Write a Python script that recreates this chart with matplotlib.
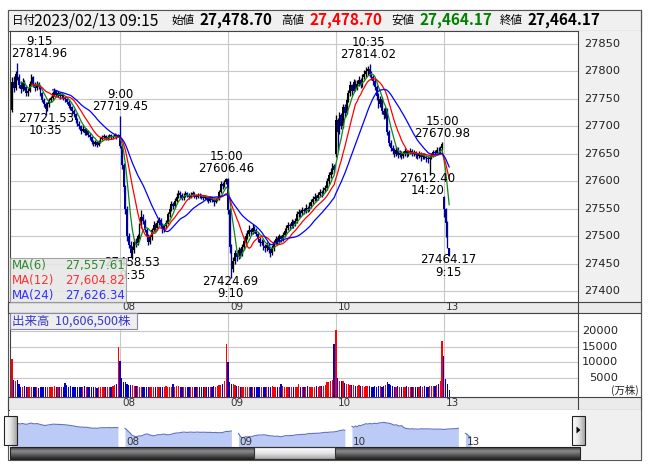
import numpy as np
import pandas as pd
import matplotlib
matplotlib.use("Agg")
import matplotlib.pyplot as plt
import matplotlib.transforms as mtransforms
from matplotlib.patches import Rectangle, Polygon
from matplotlib.colors import LinearSegmentedColormap

# ------------------------------------------------------------------ data
day_labels = ["08", "09", "10", "13"]
day_start_bars = [61, 122, 183, 244]
session_start_bars = [0, 61, 122, 183, 244]
last_date = "2023/02/13"
last_time = "09:15"

opens = [
    # 02/07
    27730, 27780, 27770, 27795, 27790, 27775, 27768, 27780, 27772, 27760,
    27765, 27778, 27790, 27776, 27770, 27778, 27772, 27760, 27748, 27740,
    27732, 27740, 27748, 27752, 27760, 27765, 27758, 27760, 27755, 27757,
    27752, 27750, 27745, 27738, 27735, 27728, 27722, 27712, 27705, 27700,
    27692, 27696, 27688, 27692, 27685, 27680, 27672, 27668, 27672, 27666,
    27672, 27678, 27680, 27682, 27679, 27681, 27684, 27680, 27682, 27685,
    27680,
    # 02/08
    27684, 27665, 27630, 27590, 27550, 27500, 27485, 27470, 27475, 27490,
    27488, 27500, 27520, 27535, 27528, 27512, 27500, 27490, 27498, 27512,
    27520, 27515, 27525, 27530, 27520, 27512, 27518, 27525, 27540, 27550,
    27558, 27555, 27565, 27572, 27578, 27575, 27570, 27574, 27578, 27575,
    27572, 27576, 27578, 27574, 27572, 27575, 27574, 27572, 27570, 27572,
    27568, 27565, 27570, 27566, 27562, 27566, 27568, 27580, 27595, 27592,
    27598,
    # 02/09
    27604, 27548, 27480, 27440, 27455, 27470, 27462, 27475, 27468, 27480,
    27492, 27500, 27505, 27512, 27508, 27515, 27512, 27505, 27495, 27488,
    27490, 27482, 27478, 27484, 27475, 27470, 27478, 27490, 27495, 27492,
    27500, 27496, 27502, 27510, 27515, 27520, 27518, 27526, 27522, 27528,
    27540, 27545, 27542, 27548, 27546, 27552, 27550, 27556, 27562, 27568,
    27572, 27570, 27575, 27580, 27578, 27585, 27588, 27600, 27612, 27618,
    27628,
    # 02/10
    27650, 27712, 27690, 27720, 27700, 27735, 27725, 27748, 27760, 27775,
    27765, 27780, 27770, 27778, 27785, 27775, 27790, 27795, 27800, 27805,
    27795, 27790, 27782, 27772, 27755, 27740, 27750, 27728, 27720, 27730,
    27690, 27670, 27660, 27655, 27650, 27658, 27648, 27652, 27646, 27650,
    27655, 27650, 27652, 27656, 27650, 27653, 27648, 27646, 27650, 27644,
    27648, 27645, 27642, 27640.32, 27644, 27648, 27654, 27651, 27658, 27657.18,
    27660,
    # 02/13
    27572, 27549.79, 27525, 27478.70,
]

highs = [
    27790, 27792, 27800, 27814.96, 27796, 27782, 27788, 27785, 27776, 27770,
    27782, 27795, 27792, 27780, 27782, 27781, 27775, 27763, 27752, 27744,
    27745, 27752, 27756, 27764, 27770, 27767, 27765, 27762, 27761, 27759,
    27756, 27752, 27748, 27742, 27737, 27731, 27725, 27716, 27709, 27703,
    27702, 27698, 27697, 27694, 27688, 27682, 27675, 27676, 27674, 27676,
    27681, 27684, 27686, 27684, 27684, 27687, 27686, 27685, 27688, 27687,
    27686,
    27719.45, 27668, 27634, 27594, 27555, 27506, 27492, 27482, 27496, 27497,
    27505, 27525, 27548, 27540, 27532, 27516, 27504, 27503, 27516, 27528,
    27524, 27530, 27536, 27533, 27524, 27522, 27530, 27545, 27556, 27564,
    27562, 27570, 27578, 27584, 27582, 27578, 27578, 27582, 27580, 27578,
    27580, 27582, 27580, 27577, 27579, 27578, 27577, 27575, 27576, 27574,
    27571, 27574, 27572, 27569, 27570, 27572, 27584, 27600, 27599, 27603,
    27606.46,
    27606, 27552, 27486, 27462, 27476, 27474, 27480, 27478, 27486, 27498,
    27506, 27512, 27520, 27516, 27522, 27518, 27515, 27508, 27498, 27496,
    27493, 27486, 27490, 27487, 27478, 27484, 27494, 27500, 27498, 27505,
    27503, 27507, 27515, 27520, 27526, 27524, 27532, 27530, 27534, 27546,
    27550, 27548, 27554, 27552, 27558, 27556, 27562, 27568, 27574, 27578,
    27576, 27580, 27586, 27584, 27590, 27594, 27606, 27618, 27624, 27634,
    27632,
    27720, 27716, 27726, 27724, 27740, 27740, 27754, 27766, 27782, 27778,
    27786, 27784, 27784, 27792, 27789, 27796, 27802, 27808, 27810, 27814.02,
    27800, 27794, 27786, 27776, 27760, 27756, 27754, 27734, 27736, 27734,
    27694, 27676, 27666, 27660, 27664, 27662, 27657, 27655, 27655, 27660,
    27658, 27657, 27661, 27659, 27658, 27656, 27651, 27655, 27653, 27652,
    27651, 27648, 27646, 27648, 27652, 27658, 27657, 27662, 27662, 27664,
    27670.98,
    27574, 27552, 27528, 27478.70,
]

lows = [
    27726, 27762, 27766, 27785, 27770, 27760, 27764, 27766, 27755, 27756,
    27762, 27774, 27772, 27765, 27766, 27768, 27756, 27744, 27735, 27721.53,
    27728, 27736, 27744, 27749, 27756, 27753, 27754, 27750, 27752, 27748,
    27745, 27740, 27733, 27730, 27723, 27717, 27707, 27700, 27695, 27687,
    27690, 27684, 27685, 27680, 27675, 27668, 27664, 27665, 27662, 27664,
    27670, 27675, 27677, 27675, 27676, 27679, 27677, 27678, 27680, 27677,
    27680,
    27660, 27622, 27580, 27540, 27492, 27478, 27462, 27458.53, 27470, 27480,
    27484, 27496, 27515, 27522, 27508, 27494, 27484, 27486, 27494, 27508,
    27510, 27512, 27520, 27516, 27506, 27508, 27514, 27522, 27536, 27546,
    27550, 27552, 27562, 27569, 27570, 27566, 27567, 27571, 27571, 27568,
    27570, 27573, 27570, 27568, 27570, 27570, 27568, 27566, 27568, 27564,
    27560, 27563, 27562, 27556, 27560, 27564, 27566, 27578, 27586, 27590,
    27596,
    27540, 27470, 27424.69, 27436, 27450, 27455, 27458, 27460, 27464, 27476,
    27488, 27496, 27500, 27502, 27504, 27506, 27500, 27490, 27482, 27484,
    27476, 27472, 27474, 27470, 27462, 27466, 27474, 27486, 27486, 27488,
    27490, 27492, 27498, 27506, 27511, 27512, 27515, 27516, 27519, 27525,
    27536, 27536, 27539, 27540, 27543, 27545, 27547, 27552, 27558, 27564,
    27564, 27567, 27571, 27572, 27575, 27580, 27585, 27596, 27606, 27614,
    27616,
    27645, 27655, 27686, 27695, 27697, 27718, 27722, 27744, 27756, 27758,
    27762, 27764, 27766, 27774, 27770, 27772, 27786, 27790, 27794, 27790,
    27784, 27776, 27766, 27748, 27734, 27736, 27722, 27714, 27716, 27684,
    27664, 27655, 27650, 27644, 27646, 27642, 27644, 27640, 27642, 27646,
    27645, 27647, 27649, 27646, 27647, 27643, 27640, 27643, 27638, 27640,
    27640, 27636, 27634, 27612.40, 27640, 27645, 27646, 27648, 27650, 27652,
    27658,
    27535, 27499, 27478, 27464.17,
]

closes = [
    27780, 27770, 27795, 27790, 27775, 27768, 27780, 27772, 27760, 27765,
    27778, 27790, 27776, 27770, 27778, 27772, 27760, 27748, 27740, 27732,
    27740, 27748, 27752, 27760, 27765, 27758, 27760, 27755, 27757, 27752,
    27750, 27745, 27738, 27735, 27728, 27722, 27712, 27705, 27700, 27692,
    27696, 27688, 27692, 27685, 27680, 27672, 27668, 27672, 27666, 27672,
    27678, 27680, 27682, 27679, 27681, 27684, 27680, 27682, 27685, 27680,
    27684,
    27665, 27630, 27590, 27550, 27500, 27485, 27470, 27475, 27490, 27488,
    27500, 27520, 27535, 27528, 27512, 27500, 27490, 27498, 27512, 27520,
    27515, 27525, 27530, 27520, 27512, 27518, 27525, 27540, 27550, 27558,
    27555, 27565, 27572, 27578, 27575, 27570, 27574, 27578, 27575, 27572,
    27576, 27578, 27574, 27572, 27575, 27574, 27572, 27570, 27572, 27568,
    27565, 27570, 27566, 27562, 27566, 27568, 27580, 27595, 27592, 27598,
    27604,
    27548, 27480, 27440, 27455, 27470, 27462, 27475, 27468, 27480, 27492,
    27500, 27505, 27512, 27508, 27515, 27512, 27505, 27495, 27488, 27490,
    27482, 27478, 27484, 27475, 27470, 27478, 27490, 27495, 27492, 27500,
    27496, 27502, 27510, 27515, 27520, 27518, 27526, 27522, 27528, 27540,
    27545, 27542, 27548, 27546, 27552, 27550, 27556, 27562, 27568, 27572,
    27570, 27575, 27580, 27578, 27585, 27588, 27600, 27612, 27618, 27628,
    27620,
    27712, 27690, 27720, 27700, 27735, 27725, 27748, 27760, 27775, 27765,
    27780, 27770, 27778, 27785, 27775, 27790, 27795, 27800, 27805, 27795,
    27790, 27782, 27772, 27755, 27740, 27750, 27728, 27720, 27730, 27690,
    27670, 27660, 27655, 27650, 27658, 27648, 27652, 27646, 27650, 27655,
    27650, 27652, 27656, 27650, 27653, 27648, 27646, 27650, 27644, 27648,
    27645, 27642, 27640.32, 27644, 27648, 27654, 27651, 27658, 27657.18, 27660,
    27668,
    27549.79, 27525, 27478.70, 27464.17,
]

volumes = [  # 万株
    11000, 4200, 3900, 4200, 3000, 2100, 2000, 2200, 1900, 2000,
    1800, 2100, 1900, 1800, 1800, 1700, 1800, 1800, 1900, 2000,
    1800, 2100, 1900, 2000, 2200, 2000, 2100, 1900, 2000, 1800,
    3100, 2600, 1900, 2200, 2000, 1900, 1800, 2000, 1900, 2000,
    2100, 2200, 1900, 1800, 2000, 1900, 1800, 1900, 1700, 1800,
    2000, 1900, 1800, 2000, 2100, 1900, 2000, 2300, 2600, 3000,
    15000,
    10500, 5000, 3500, 3500, 3000, 2700, 2600, 2500, 2300, 2200,
    2200, 2100, 2000, 2100, 1900, 2000, 2000, 1900, 2100, 2000,
    1800, 1900, 2000, 2100, 1900, 2000, 2200, 2000, 2100, 1900,
    2800, 2100, 2300, 2200, 2000, 1900, 2100, 2000, 1900, 2000,
    1800, 1900, 2000, 1900, 1800, 2000, 1900, 2000, 2100, 1900,
    2000, 1900, 2100, 2200, 2000, 2300, 2500, 2600, 3000, 4000,
    16000,
    10000, 3500, 3000, 2800, 2500, 2400, 2200, 2100, 2100, 2000,
    2100, 2000, 1900, 2000, 2100, 1900, 2000, 2000, 1800, 1900,
    2000, 2100, 1900, 1800, 2000, 2200, 2100, 1900, 2000, 2000,
    2800, 2300, 2100, 2000, 1900, 2100, 2000, 1900, 2000, 2100,
    3000, 2000, 1900, 2100, 2000, 2200, 2100, 2000, 2100, 2000,
    2200, 2100, 2300, 2200, 2400, 2500, 3500, 3500, 4000, 4200,
    16000,
    20500, 4800, 4000, 4000, 3800, 3200, 3000, 2800, 2600, 2500,
    2500, 2400, 2300, 2500, 2200, 2300, 2100, 2400, 2200, 2300,
    2100, 2000, 2200, 2100, 2300, 2200, 2100, 2400, 2600, 3500,
    3000, 2500, 2200, 2000, 2100, 2200, 1900, 2000, 2100, 2000,
    2200, 1900, 2000, 2100, 2000, 1900, 2100, 2000, 2200, 2100,
    2300, 2000, 2100, 2200, 2300, 2200, 2400, 2500, 2800, 4000,
    17000,
    12000, 4500, 3000, 1060.65,
]

price_ticks = [27400, 27450, 27500, 27550, 27600, 27650, 27700, 27750, 27800, 27850]
volume_ticks = [5000, 10000, 15000, 20000]

ann_bar = [3, 19, 61, 68, 121, 124, 202, 243, 236, 247]
ann_time = ["9:15", "10:35", "9:00", "9:35", "15:00", "9:10", "10:35", "15:00", "14:20", "9:15"]
ann_kind = ["high", "low", "high", "low", "high", "low", "high", "high", "low", "low"]
ann_dx = [22, 0, 0, 0, 0, -1, -1, 0, -2, -1]   # pixel nudges

# ------------------------------------------------------------------ setup
o = np.array(opens, float); h = np.array(highs, float)
l = np.array(lows, float); c = np.array(closes, float)
v = np.array(volumes, float)
n = len(c)
x = np.arange(n)
up = c >= o

W, H = 653, 470
fig = plt.figure(figsize=(W / 100, H / 100), dpi=100)
fig.patch.set_facecolor("white")
CJK = ["Noto Sans CJK JP", "DejaVu Sans"]


def px_axes(x0, y0, x1, y1, z=1):
    return fig.add_axes([x0 / W, 1 - y1 / H, (x1 - x0) / W, (y1 - y0) / H], zorder=z)


def rect(a, x0, y0, x1, y1, **kw):
    a.add_patch(Rectangle((x0, y0), x1 - x0, y1 - y0, **kw))


bg = px_axes(0, 0, W, H, z=0)
bg.set_xlim(0, W); bg.set_ylim(H, 0); bg.axis("off")
ov = px_axes(0, 0, W, H, z=5)
ov.set_xlim(0, W); ov.set_ylim(H, 0); ov.axis("off")

# panels / frames
rect(bg, 8, 10, 641, 460, fc="white", ec="#555555", lw=0.8)
rect(bg, 8, 10, 641, 31, fc="#f0f0f0", ec="#555555", lw=0.8)
rect(bg, 578, 31, 641, 302, fc="#f0f0f0", ec="none")
rect(bg, 8, 302, 641, 313, fc="#ebebeb", ec="#444444", lw=0.8)
rect(bg, 8, 397, 641, 410, fc="#ebebeb", ec="#444444", lw=0.8)
rect(bg, 580, 410, 641, 460, fc="#f0f0f0", ec="none")
bg.plot([641, 641], [10, 460], color="#555555", lw=0.8)
bg.plot([578, 578], [302, 313], color="#444444", lw=0.8)
bg.plot([578, 578], [397, 410], color="#444444", lw=0.8)

# header
hy = 20.5
hdr = [
    (12, "日付", "normal", "#000000", 8.3),
    (34, f"{last_date} {last_time}", "normal", "#000000", 11.3),
    (172, "始値", "normal", "#000000", 8.3),
    (200, f"{o[-1]:,.2f}", "bold", "#000000", 11),
    (281, "高値", "normal", "#000000", 8.3),
    (309, f"{h[-1]:,.2f}", "bold", "#ff0000", 11),
    (391, "安値", "normal", "#000000", 8.3),
    (419, f"{l[-1]:,.2f}", "bold", "#008000", 11),
    (500, "終値", "normal", "#000000", 8.3),
    (528, f"{c[-1]:,.2f}", "bold", "#000000", 11),
]
for hx, s, wt, col, fs in hdr:
    bg.text(hx, hy, s, ha="left", va="center", fontsize=fs, fontweight=wt,
            color=col, family=CJK)

# ------------------------------------------------------------------ main price panel
XLIM = (-1.13, 319.8)
ax = px_axes(10, 31, 578, 302)
ax.set_facecolor("white")
ax.set_xlim(*XLIM)
ax.set_ylim(27380.5, 27873.7)
ax.set_yticks(price_ticks)
ax.set_xticks(day_start_bars)
ax.tick_params(length=0, labelleft=False, labelbottom=False)
ax.grid(True, color="#c8c8c8", lw=0.8)
ax.set_axisbelow(True)
for sp in ax.spines.values():
    sp.set_color("#444444"); sp.set_linewidth(0.8)

ccol = np.where(up, "#000000", "#00009c")
ax.vlines(x, l, h, colors=ccol, lw=0.95, zorder=2)
ax.bar(x, np.abs(c - o), bottom=np.minimum(o, c), width=0.9, color=ccol,
       linewidth=0, zorder=2)

s = pd.Series(c)
ma6 = s.rolling(6).mean()
ma12 = s.rolling(12).mean()
ma24 = s.rolling(24).mean()
ax.plot(x, ma6, color="#118811", lw=0.9, zorder=3)
ax.plot(x, ma12, color="#ff0000", lw=0.9, zorder=3)
ax.plot(x, ma24, color="#0000ff", lw=0.9, zorder=3)

ytr = ax.get_yaxis_transform()
for p in price_ticks:
    ax.text(1 + 6 / 568, p, f"{p}", transform=ytr, ha="left", va="center",
            fontsize=8.2, color="#222222", clip_on=False)

for b, t, kind, dx in zip(ann_bar, ann_time, ann_kind, ann_dx):
    val = h[b] if kind == "high" else l[b]
    if kind == "high":
        lines = [(9.3, f"{val:.2f}"), (21.3, t)]
    else:
        lines = [(-3.6, f"{val:.2f}"), (-16.0, t)]
    for dy, txt in lines:
        ax.annotate(txt, xy=(b, val), xytext=(dx * 0.72, dy * 0.72),
                    textcoords="offset points", ha="center", va="center",
                    fontsize=8.5, color="#000000", zorder=4)

xtr_main = mtransforms.offset_copy(ax.get_xaxis_transform(), fig=fig, x=2, y=0, units="dots")
for b, lab in zip(day_start_bars, day_labels):
    ax.text(b, -(307.5 - 302) / 271, lab, transform=xtr_main, ha="left", va="center",
            fontsize=7.5, color="#333333", clip_on=False)

# MA legend box (overlay)
rect(ov, 10, 258, 126, 302, fc="#e6e6e6", ec="#999999", lw=0.8, alpha=0.88)
for yy, name, val, col in [(266, "MA(6)", ma6.iloc[-1], "#2e8b2e"),
                           (280.5, "MA(12)", ma12.iloc[-1], "#ff3030"),
                           (295, "MA(24)", ma24.iloc[-1], "#3030ff")]:
    ov.text(12, yy, name, ha="left", va="center", fontsize=8.5, color=col)
    ov.text(125, yy, f"{val:,.2f}", ha="right", va="center", fontsize=8.5, color=col)

# ------------------------------------------------------------------ volume panel
VBOT = -1300
vax = px_axes(10, 313, 578, 397)
vax.set_facecolor("white")
vax.set_xlim(*XLIM)
vax.set_ylim(VBOT, 26000)
vax.set_yticks(volume_ticks)
vax.set_xticks(day_start_bars)
vax.tick_params(length=0, labelleft=False, labelbottom=False)
vax.grid(True, color="#c8c8c8", lw=0.8)
vax.set_axisbelow(True)
for sp in vax.spines.values():
    sp.set_color("#444444"); sp.set_linewidth(0.8)
vcol = np.where(up, "#ff0000", "#0000cc")
vax.bar(x, v - VBOT, bottom=VBOT, width=0.7, color=vcol, linewidth=0, zorder=2)

vtr = vax.get_yaxis_transform()
for t in volume_ticks:
    vax.text(1 + 40 / 568, t, f"{t}", transform=vtr, ha="right", va="center",
             fontsize=8.2, color="#222222", clip_on=False)
bg.text(639, 390, "(万株)", ha="right", va="center", fontsize=7.5, color="#222222",
        family=CJK)

xtr_vol = mtransforms.offset_copy(vax.get_xaxis_transform(), fig=fig, x=2, y=0, units="dots")
for b, lab in zip(day_start_bars, day_labels):
    vax.text(b, -(403.5 - 397) / 84, lab, transform=xtr_vol, ha="left", va="center",
             fontsize=7.5, color="#333333", clip_on=False)

rect(ov, 10, 313, 137, 329, fc="#eeeeee", ec="#8a8aa8", lw=0.8)
ov.text(12, 321, f"出来高  {int(round(v[-1] * 10000)):,}株", ha="left", va="center",
        fontsize=9, color="#3838c8", family=CJK)

# ------------------------------------------------------------------ navigator
NAV_GAP = 3
nav = px_axes(10, 410, 580, 447)
nav.set_facecolor("white")
nav.set_xlim(-0.85, 320.6)
nav.set_ylim(27229, 28095)
nav.set_xticks([]); nav.set_yticks([])
for sp in nav.spines.values():
    sp.set_visible(False)
ends = session_start_bars[1:] + [n]
for d, (s0, s1) in enumerate(zip(session_start_bars, ends)):
    xs = x[s0:s1] + d * NAV_GAP
    ys = c[s0:s1]
    nav.fill_between(xs, ys, 27229, color="#bccbf5", lw=0)
    nav.plot(xs, ys, color="#6272c4", lw=0.8)
xtr_nav = mtransforms.offset_copy(nav.get_xaxis_transform(), fig=fig, x=1, y=0, units="dots")
for d, (b, lab) in enumerate(zip(day_start_bars, day_labels), start=1):
    nav.text(b + d * NAV_GAP, 0.14, lab, transform=xtr_nav, ha="left", va="center",
             fontsize=7.5, color="#333333")

# scrollbar
dark = LinearSegmentedColormap.from_list("d", ["#3a3a3a", "#8c8c8c", "#5a5a5a", "#262626"])
light = LinearSegmentedColormap.from_list("l", ["#ffffff", "#e6e6e6", "#a8a8a8"])
grad = np.linspace(0, 1, 32).reshape(-1, 1)
ov.imshow(grad, extent=(10, 580, 459, 447), aspect="auto", cmap=dark, zorder=1)
ov.imshow(grad, extent=(254, 335, 459, 447), aspect="auto", cmap=light, zorder=2)
rect(ov, 10, 447, 580, 459, fc="none", ec="#222222", lw=0.8, zorder=3)
rect(ov, 254, 447, 335, 459, fc="none", ec="#333333", lw=0.8, zorder=3)
hgrad = np.linspace(0, 1, 16).reshape(1, -1)
ov.imshow(hgrad, extent=(4, 17, 445, 416), aspect="auto", cmap=light, zorder=2)
rect(ov, 4, 416, 17, 445, fc="none", ec="#222222", lw=0.8, zorder=3)
ov.imshow(hgrad, extent=(572, 585, 445, 416), aspect="auto", cmap=light, zorder=2)
rect(ov, 572, 416, 585, 445, fc="none", ec="#222222", lw=0.8, zorder=3)
ov.add_patch(Polygon([[576.5, 426.5], [576.5, 433.5], [580.5, 430]], closed=True,
                     fc="#000000", ec="none", zorder=4))
ov.set_xlim(0, W); ov.set_ylim(H, 0)

fig.savefig("out.png", dpi=100)
